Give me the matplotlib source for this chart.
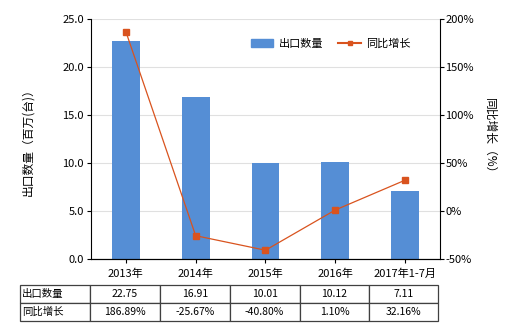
import matplotlib
matplotlib.use("Agg")
import matplotlib.pyplot as plt
from matplotlib.lines import Line2D
from matplotlib.patches import Patch

plt.rcParams["font.family"] = ["Noto Sans CJK SC", "DejaVu Sans"]
plt.rcParams["font.size"] = 8

years = ["2013年", "2014年", "2015年", "2016年", "2017年1-7月"]
export_qty = [22.75, 16.91, 10.01, 10.12, 7.11]
yoy_growth = [186.89, -25.67, -40.80, 1.10, 32.16]
qty_labels = ["22.75", "16.91", "10.01", "10.12", "7.11"]
growth_labels = ["186.89%", "-25.67%", "-40.80%", "1.10%", "32.16%"]

BAR_COLOR = "#558ED5"
LINE_COLOR = "#D9531E"

fig = plt.figure(figsize=(5.2, 3.3), dpi=100)
ax = fig.add_axes([0.175, 0.215, 0.671, 0.727])
x = list(range(len(years)))
ax.bar(x, export_qty, width=0.4, color=BAR_COLOR, zorder=2)
ax.set_xlim(-0.5, 4.5)
ax.set_ylim(0, 25)
ax.set_yticks([0, 5, 10, 15, 20, 25])
ax.set_yticklabels([f"{v:.1f}" for v in [0, 5, 10, 15, 20, 25]])
ax.set_xticks(x)
ax.set_xticklabels(years)
ax.grid(axis="y", color="#E0E0E0", linewidth=0.8, zorder=0)
ax.spines["top"].set_visible(False)
ax.spines["right"].set_visible(False)
ax.tick_params(direction="out", length=3, width=0.8, pad=2)
ax.tick_params(axis="x", pad=4)
ax.set_ylabel("出口数量（百万(台)）", fontsize=8.5, labelpad=20)

ax2 = ax.twinx()
ax2.plot(x, yoy_growth, color=LINE_COLOR, linewidth=0.9, marker="s",
         markersize=4, zorder=3)
ax2.set_ylim(-50, 200)
ax2.set_yticks([-50, 0, 50, 100, 150, 200])
ax2.set_yticklabels([f"{v}%" for v in [-50, 0, 50, 100, 150, 200]])
ax2.spines["top"].set_visible(False)
ax2.spines["left"].set_visible(False)
ax2.tick_params(direction="out", length=3, width=0.8, pad=1)
ax2.set_ylabel("同比增长（%）", fontsize=8.5, rotation=-90, labelpad=16)

handles = [
    Patch(color=BAR_COLOR),
    Line2D([0], [0], color=LINE_COLOR, linewidth=1.5, marker="s", markersize=3),
]
ax.legend(handles, ["出口数量", "同比增长"], loc="upper right",
          bbox_to_anchor=(0.945, 0.96), ncol=2, frameon=False, fontsize=8,
          handlelength=2.0, columnspacing=1.4, handletextpad=0.5)

cells = [["出口数量"] + qty_labels, ["同比增长"] + growth_labels]
tbl = ax.table(cellText=cells, bbox=[-0.203, -0.258, 1.198, 0.15],
               colWidths=[70, 70, 70, 70, 70, 69], cellLoc="center")
tbl.auto_set_font_size(False)
tbl.set_fontsize(7.5)
for (r, c), cell in tbl.get_celld().items():
    cell.set_edgecolor("#404040")
    cell.set_linewidth(0.9)
    if c == 0:
        cell.set_text_props(ha="left")
        cell._loc = "left"
        cell.PAD = 0.03

fig.savefig("out.png", dpi=100)
